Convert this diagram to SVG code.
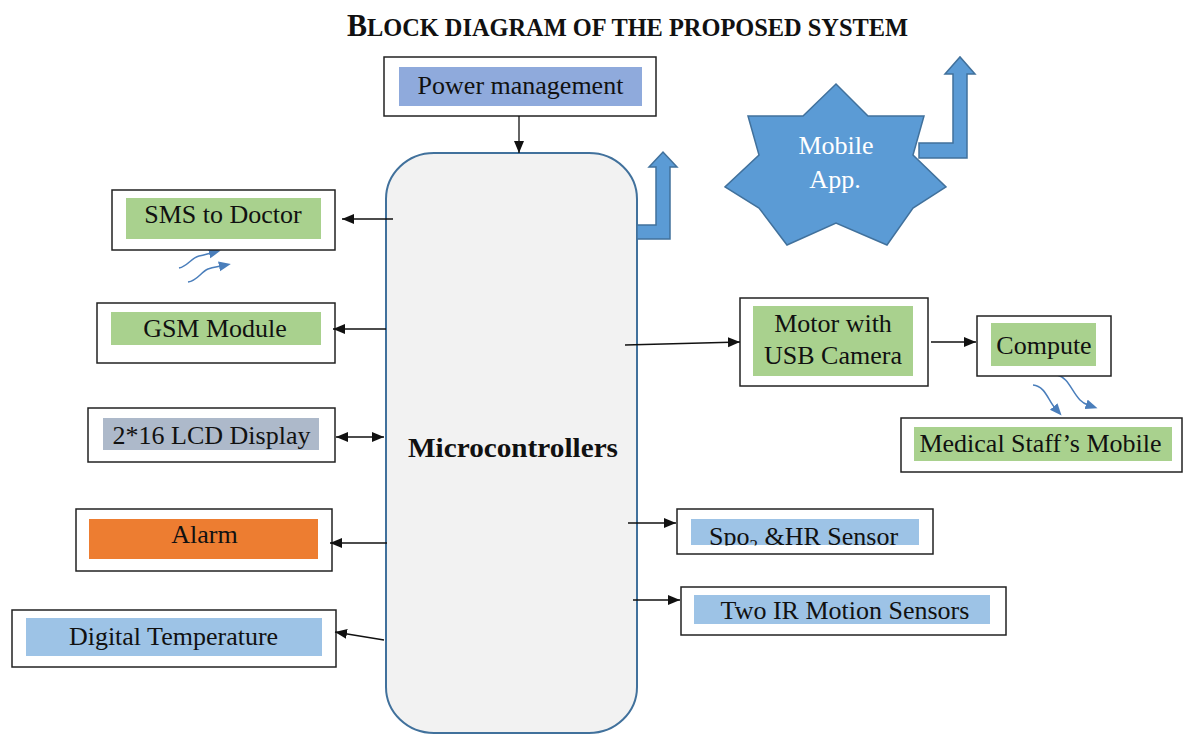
<svg xmlns="http://www.w3.org/2000/svg" width="1183" height="734" viewBox="0 0 1183 734">
<style>
  .t { font-family: "Liberation Serif", "Times New Roman", serif; font-size: 26px; fill: #111; }
  .mid { text-anchor: middle; }
  .box { fill: #fff; stroke: #222; stroke-width: 1.5; }
  .green { fill: #a9d18e; }
  .lblue { fill: #9dc3e6; }
  .conn { stroke: #111; stroke-width: 1.3; fill: none; }
  .bent { fill: #5b9bd5; stroke: #41719c; stroke-width: 1.5; stroke-linejoin: miter; }
  .wave { stroke: #4a7ebb; stroke-width: 1.5; fill: none; }
</style>
<defs>
  <marker id="ah" markerUnits="userSpaceOnUse" markerWidth="13" markerHeight="11" refX="12" refY="5" orient="auto-start-reverse" viewBox="0 0 13 11">
    <path d="M0,0 L12,5 L0,10 z" fill="#111"/>
  </marker>
  <marker id="bh" markerUnits="userSpaceOnUse" markerWidth="13" markerHeight="11" refX="2" refY="5" orient="auto" viewBox="0 0 13 11">
    <path d="M0,0 L12,5 L0,10 z" fill="#4a7ebb"/>
  </marker>
  <clipPath id="spoclip"><rect x="677" y="505" width="260" height="40.5"/></clipPath>
</defs>
<rect width="1183" height="734" fill="#fff"/>

<text x="347" y="36" font-family="Liberation Serif, Times New Roman, serif" font-weight="bold" fill="#111" textLength="561" lengthAdjust="spacingAndGlyphs"><tspan font-size="32">B</tspan><tspan font-size="26">LOCK DIAGRAM OF THE PROPOSED SYSTEM</tspan></text>

<g id="wireless">
  <path class="wave" d="M179,268 C188,266 191,258 199,256 C204,255 207,254 211,253" marker-end="url(#bh)"/>
  <path class="wave" d="M188,282 C197,281 201,272 208,269 C213,267 216,267 221,266" marker-end="url(#bh)"/>
  <path class="wave" d="M1033,385 C1045,386 1048,400 1055,408" marker-end="url(#bh)"/>
  <path class="wave" d="M1057,375 C1068,377 1072,392 1080,400 C1083,403 1085,404 1088,405" marker-end="url(#bh)"/>
</g>

<g id="microcontroller">
  <rect x="386" y="153" width="251" height="580" rx="48" ry="46" fill="#f2f2f2" stroke="#41719c" stroke-width="2"/>
  <text x="513" y="457" class="mid" font-family="Liberation Serif, Times New Roman, serif" font-weight="bold" font-size="28" fill="#111" textLength="210" lengthAdjust="spacingAndGlyphs">Microcontrollers</text>
</g>

<g id="power">
  <rect class="box" x="384" y="57" width="272" height="59"/>
  <rect x="399" y="67" width="243" height="39" fill="#8faadc"/>
  <text class="t mid" x="520.5" y="94">Power management</text>
</g>

<g id="sms">
  <rect class="box" x="112" y="190" width="223" height="60"/>
  <rect class="green" x="126" y="198" width="195" height="41"/>
  <text class="t mid" x="223" y="223">SMS to Doctor</text>
</g>

<g id="gsm">
  <rect class="box" x="97" y="303" width="238" height="60"/>
  <rect class="green" x="111" y="312" width="210" height="33"/>
  <text class="t mid" x="215" y="337">GSM Module</text>
</g>

<g id="lcd">
  <rect class="box" x="88" y="408" width="247" height="54"/>
  <rect x="103" y="418" width="216" height="32" fill="#adb9ca"/>
  <text class="t mid" x="211.5" y="444">2*16 LCD Display</text>
</g>

<g id="alarm">
  <rect class="box" x="76" y="509" width="256" height="62"/>
  <rect x="89" y="519" width="229" height="40" fill="#ed7d31"/>
  <text class="t mid" x="204.5" y="543">Alarm</text>
</g>

<g id="temperature">
  <rect class="box" x="12" y="610" width="324" height="57"/>
  <rect class="lblue" x="26" y="618" width="296" height="38"/>
  <text class="t mid" x="173.5" y="645">Digital Temperature</text>
</g>

<g id="mobile-app">
  <polygon points="836,84 868,116 924,116 913,155 946,187 913,208 887,245 836,223 787,245 759,208 725,187 759,155 748,116 803,116" fill="#5b9bd5" stroke="#41719c" stroke-width="1.5"/>
  <text class="t mid" x="836" y="154" style="fill:#fff">Mobile</text>
  <text class="t mid" x="835" y="188" style="fill:#fff">App.</text>
</g>

<g id="uplinks">
  <polygon class="bent" points="637,225 656,225 656,167 649,167 663,152 677,167 670,167 670,239 637,239"/>
  <polygon class="bent" points="919,143 953,143 953,74 945,74 960,57 975,74 967,74 967,158 919,158"/>
</g>

<g id="motor">
  <rect class="box" x="740" y="298" width="188" height="88"/>
  <rect class="green" x="753" y="306" width="160" height="70"/>
  <text class="t mid" x="833" y="332">Motor with</text>
  <text class="t mid" x="833" y="364">USB Camera</text>
</g>

<g id="compute">
  <rect class="box" x="977" y="316" width="134" height="60"/>
  <rect class="green" x="991" y="323" width="105" height="43"/>
  <text class="t mid" x="1044" y="354">Compute</text>
</g>

<g id="medical">
  <rect class="box" x="901" y="418" width="281" height="54"/>
  <rect class="green" x="914" y="427" width="258" height="34"/>
  <text class="t mid" x="1040.5" y="452">Medical Staff’s Mobile</text>
</g>

<g id="spo2">
  <rect class="box" x="677" y="509" width="256" height="45"/>
  <rect class="lblue" x="691" y="519" width="228" height="26"/>
  <text class="t" x="709" y="545" clip-path="url(#spoclip)">Spo<tspan font-size="17" dy="6">2</tspan><tspan dy="-6"> &amp;HR Sensor</tspan></text>
</g>

<g id="ir">
  <rect class="box" x="681" y="587" width="325" height="48"/>
  <rect class="lblue" x="694" y="595" width="296" height="29"/>
  <text class="t mid" x="845" y="619">Two IR Motion Sensors</text>
</g>

<g id="connectors">
  <line class="conn" x1="519" y1="116" x2="519" y2="153" marker-end="url(#ah)"/>
  <line class="conn" x1="393" y1="219" x2="342" y2="219" marker-end="url(#ah)"/>
  <line class="conn" x1="386" y1="329" x2="333" y2="329" marker-end="url(#ah)"/>
  <line class="conn" x1="336" y1="437" x2="384" y2="437" marker-start="url(#ah)" marker-end="url(#ah)"/>
  <line class="conn" x1="387" y1="543" x2="330" y2="543" marker-end="url(#ah)"/>
  <line class="conn" x1="384" y1="640" x2="335" y2="632" marker-end="url(#ah)"/>
  <line class="conn" x1="625" y1="345" x2="740" y2="342" marker-end="url(#ah)"/>
  <line class="conn" x1="931" y1="342" x2="976" y2="342" marker-end="url(#ah)"/>
  <line class="conn" x1="628" y1="523" x2="676" y2="523" marker-end="url(#ah)"/>
  <line class="conn" x1="633" y1="600" x2="680" y2="600" marker-end="url(#ah)"/>
</g>
</svg>
